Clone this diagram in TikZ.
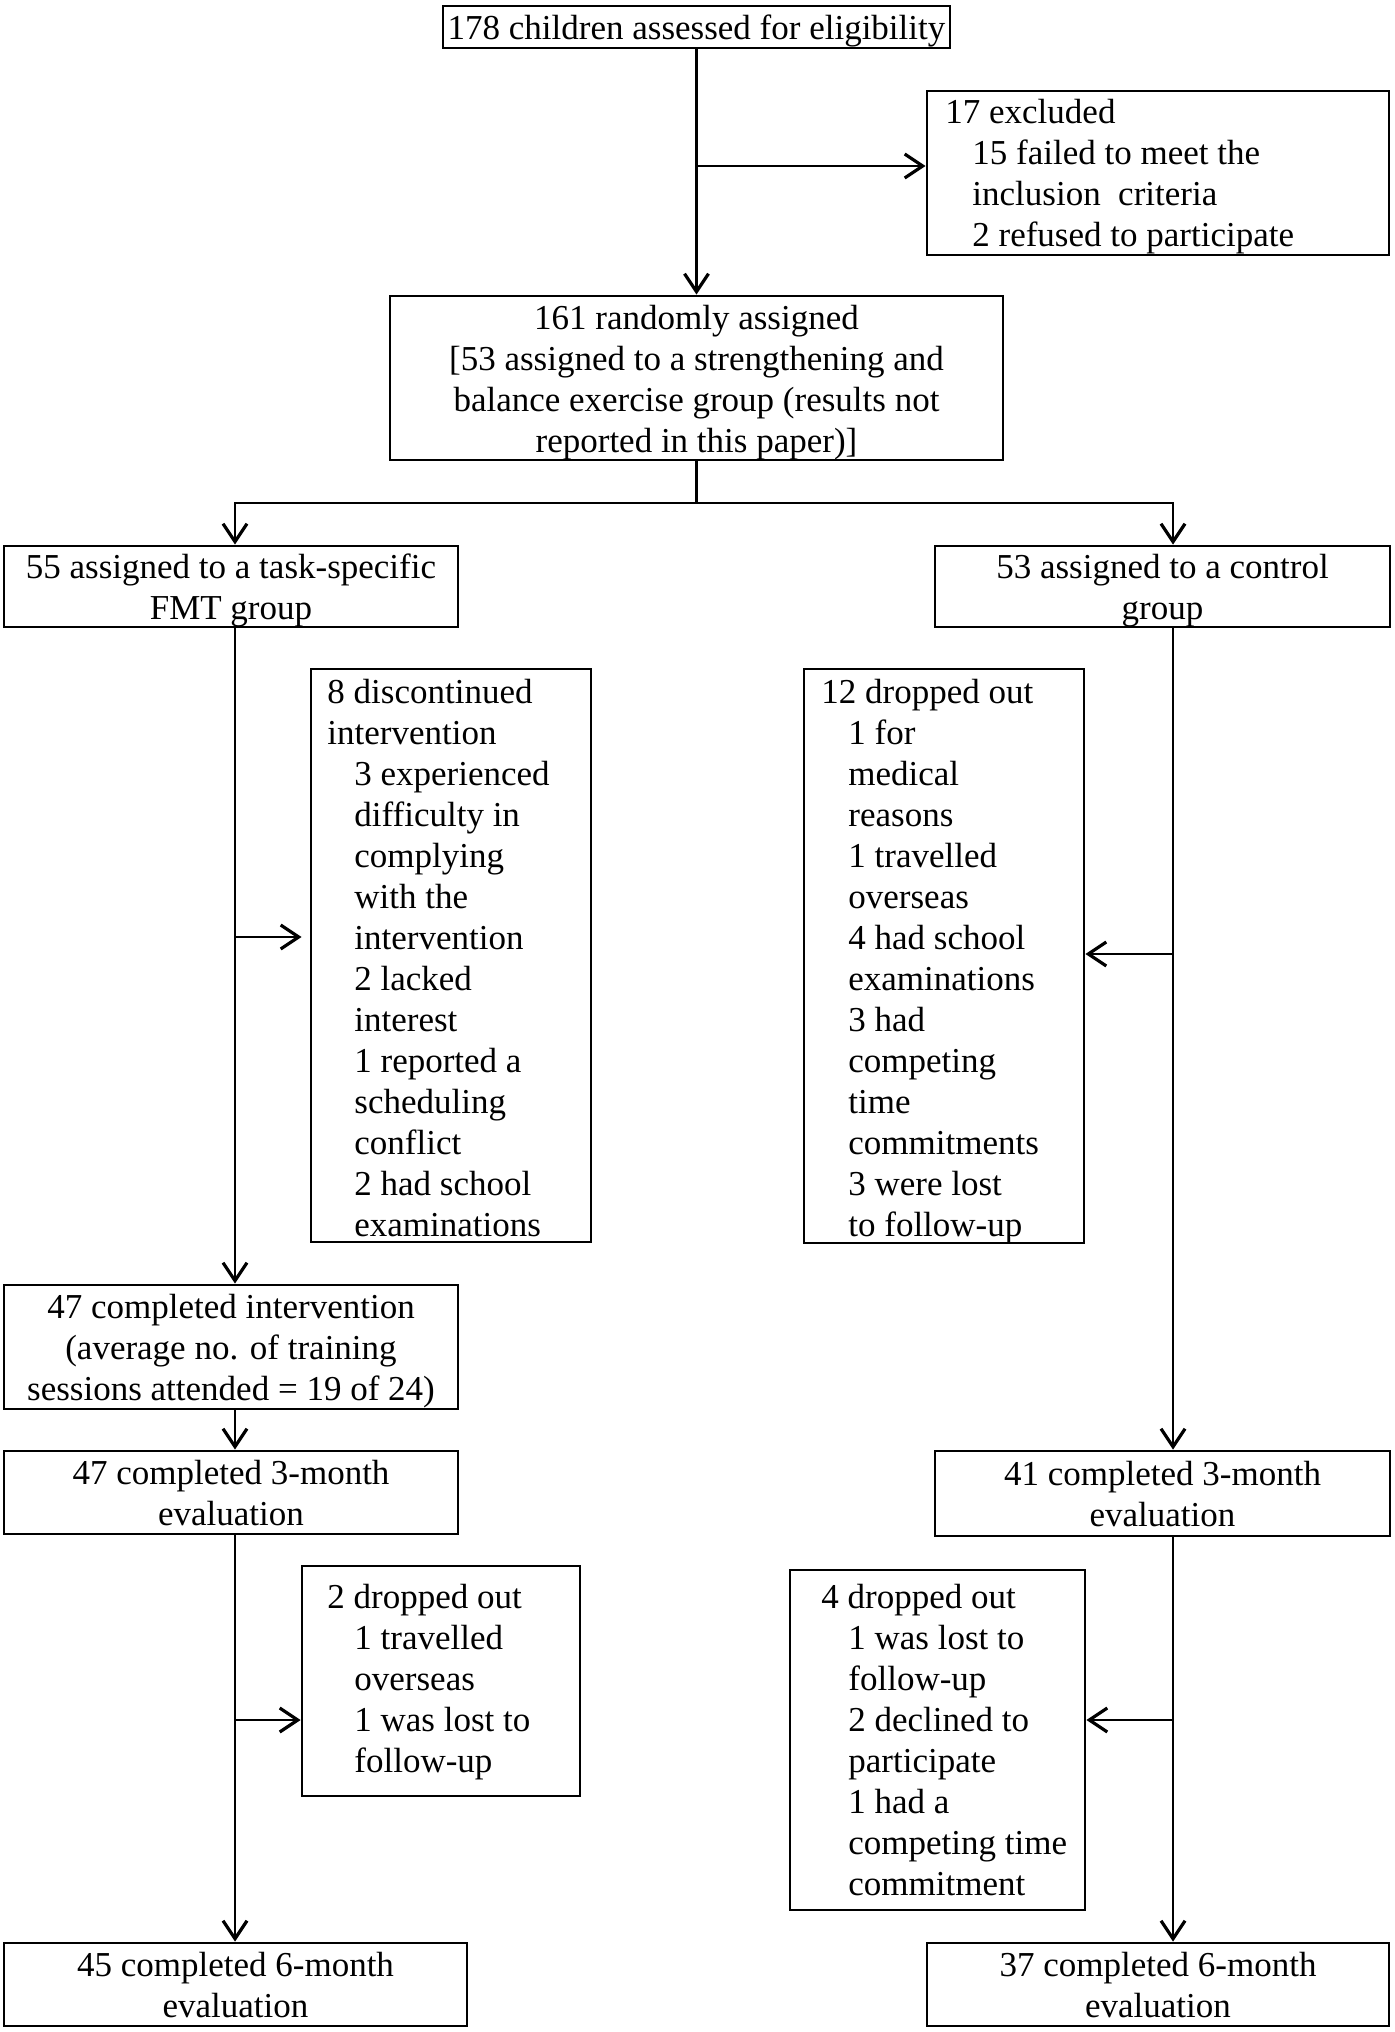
\documentclass[tikz,border=0pt]{standalone}
\usepackage{fontspec}
\setmainfont{Liberation Serif}
\usetikzlibrary{arrows.meta,fit,calc}
\begin{document}
\begin{tikzpicture}[x=0.5pt,y=-0.5pt,
  box/.style={draw,line width=1.4pt,inner sep=0pt},
  ctxt/.style={align=center,inner sep=0pt,yshift=-2.2pt,font=\fontsize{17.5}{20.5}\selectfont},
  etxt/.style={ctxt,yshift=1.7pt},
  ltxt/.style={align=left,inner sep=0pt,anchor=north west,font=\fontsize{17.5}{20.5}\selectfont},
  conn/.style={line width=1.4pt},
  arr/.style={conn,-{Straight Barb[length=9pt,width=12pt,line width=1.6pt]}}]
\useasboundingbox (0,0) rectangle (1395,2032);
\newcommand{\ind}{\hspace*{13.5pt}}
% boxes
\node[box,fit={(443,6) (950,48)}] (top) {};
\node[ctxt] (topt) at (top.center) {178 children assessed for eligibility};
\node[box,fit={(927,91) (1389,255)}] (exc) {};
\node[ltxt] (exct) at (945,94) {\strut 17 excluded\\\ind 15 failed to meet the\\\ind inclusion\ \ criteria\\\ind 2 refused to participate};
\node[box,fit={(390,296) (1003,460)}] (rand) {};
\node[ctxt] (randt) at (rand.center) {161 randomly assigned\\{[}53 assigned to a strengthening and\\balance exercise group (results not\\reported in this paper)]};
\node[box,fit={(4,546) (458,627)}] (fmt) {};
\node[ctxt] (fmtt) at (fmt.center) {55 assigned to a task-specific\\FMT group};
\node[box,fit={(935,546) (1390,627)}] (ctrl) {};
\node[ctxt] (ctrlt) at (ctrl.center) {53 assigned to a control\\group};
\node[box,fit={(311,669) (591,1242)}] (disc) {};
\node[ltxt] (disct) at (327,674) {\strut 8 discontinued\\intervention\\\ind 3 experienced\\\ind difficulty in\\\ind complying\\\ind with the\\\ind intervention\\\ind 2 lacked\\\ind interest\\\ind 1 reported a\\\ind scheduling\\\ind conflict\\\ind 2 had school\\\ind examinations};
\node[box,fit={(804,669) (1084,1243)}] (drop12) {};
\node[ltxt] (drop12t) at (821,674) {\strut 12 dropped out\\\ind 1 for\\\ind medical\\\ind reasons\\\ind 1 travelled\\\ind overseas\\\ind 4 had school\\\ind examinations\\\ind 3 had\\\ind competing\\\ind time\\\ind commitments\\\ind 3 were lost\\\ind to follow-up};
\node[box,fit={(4,1285) (458,1409)}] (int47) {};
\node[ctxt] (int47t) at (int47.center) {47 completed intervention\\(average no. of training\\sessions attended = 19 of 24)};
\node[box,fit={(4,1451) (458,1534)}] (m47) {};
\node[etxt] (m47t) at (m47.center) {47 completed 3-month\\evaluation};
\node[box,fit={(935,1451) (1390,1536)}] (m41) {};
\node[etxt] (m41t) at (m41.center) {41 completed 3-month\\evaluation};
\node[box,fit={(302,1566) (580,1796)}] (d2) {};
\node[ltxt] (d2t) at (327,1579) {\strut 2 dropped out\\\ind 1 travelled\\\ind overseas\\\ind 1 was lost to\\\ind follow-up};
\node[box,fit={(790,1570) (1085,1910)}] (d4) {};
\node[ltxt] (d4t) at (821,1579) {\strut 4 dropped out\\\ind 1 was lost to\\\ind follow-up\\\ind 2 declined to\\\ind participate\\\ind 1 had a\\\ind competing time\\\ind commitment};
\node[box,fit={(4,1943) (467,2026)}] (s45) {};
\node[etxt] (s45t) at (s45.center) {45 completed 6-month\\evaluation};
\node[box,fit={(927,1943) (1389,2026)}] (s37) {};
\node[etxt] (s37t) at (s37.center) {37 completed 6-month\\evaluation};
% junction coordinates
\coordinate (jexc) at (696.5,166);
\coordinate (jsplit) at (696.5,503);
\coordinate (jl) at (235,503);
\coordinate (jr) at (1173,503);
\coordinate (jd) at (235,937);
\coordinate (jd12) at (1173,954);
\coordinate (jd2) at (235,1720);
\coordinate (jd4) at (1173,1720);
% connectors
\draw[arr] (top.south) -- (rand.north);
\draw[arr] (jexc) -- (exc.west |- jexc);
\draw[conn] (rand.south) -- (jsplit);
\draw[arr] (jsplit) -| (jl |- fmt.north);
\draw[arr] (jsplit) -| (jr |- ctrl.north);
\draw[arr] (jl |- fmt.south) -- (jl |- int47.north);
\draw[arr] (jd) -- ([xshift=-4pt]disc.west |- jd);
\draw[arr] (jl |- int47.south) -- (jl |- m47.north);
\draw[arr] (jl |- m47.south) -- (jl |- s45.north);
\draw[arr] (jd2) -- (d2.west |- jd2);
\draw[arr] (jr |- ctrl.south) -- (jr |- m41.north);
\draw[arr] (jd12) -- (drop12.east |- jd12);
\draw[arr] (jr |- m41.south) -- (jr |- s37.north);
\draw[arr] (jd4) -- (d4.east |- jd4);
\end{tikzpicture}
\end{document}
